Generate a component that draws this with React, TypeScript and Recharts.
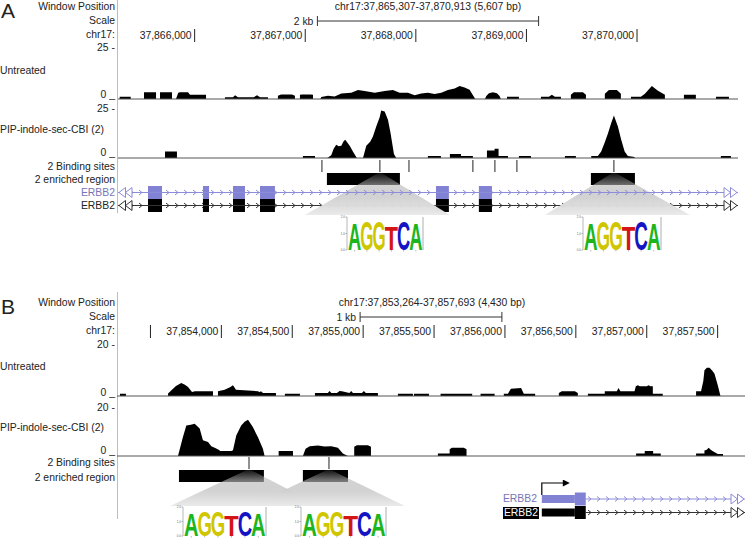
import React from "react";
import {
  AreaChart,
  Area,
  ComposedChart,
  Scatter,
  XAxis,
  YAxis,
  ReferenceLine,
  ReferenceArea,
  ReferenceDot,
} from "recharts";

const FONT = '"Liberation Sans", Arial, Helvetica, sans-serif';
const TXT = "#222";
const BLUE_LINE = "#8c8cd8";
const BLUE_EXON = "#8282d4";
const BLUE_TEXT = "#7676b6";
const FS = 10.4;

// ---- panel A window (chr17) ----
const aStart = 37865307;
const aEnd = 37870913;
const aTicks = [37866000, 37867000, 37868000, 37869000, 37870000];

// signal tracks, [bp from window start, read depth]
const aUntreated: number[][] = [
  [0, 0], [15, 0], [15, 1.1], [115, 1.1], [115, 0],
  [235, 0], [235, 3.2], [344, 3.2], [344, 0],
  [380, 0], [380, 3.2], [488, 3.2], [488, 0],
  [524, 0], [545, 3.0], [560, 3.2], [633, 3.2], [651, 2.0], [796, 2.0], [796, 0],
  [967, 0], [967, 0.9], [1040, 0.9], [1058, 1.8], [1085, 0.9], [1157, 0.9], [1229, 0.9], [1257, 1.8], [1284, 0.9], [1356, 0.9], [1356, 0],
  [1446, 0], [1446, 1.6], [1474, 2.2], [1573, 2.2], [1600, 1.6], [1600, 0],
  [1645, 0], [1645, 2.0], [1665, 2.2], [1743, 2.2], [1763, 2.0], [1763, 0],
  [1830, 0], [1838, 1.0], [1898, 1.6], [1959, 1.2], [2019, 2.7], [2109, 3.0], [2170, 4.3], [2230, 3.9], [2321, 3.0], [2411, 3.8], [2486, 4.3], [2547, 3.0], [2622, 3.0], [2682, 1.8], [2742, 2.6], [2802, 3.0], [2863, 2.4], [2923, 3.0], [2983, 4.3], [3044, 5.0], [3089, 6.2], [3134, 5.5], [3179, 4.5], [3225, 0.5], [3230, 0],
  [3318, 0], [3330, 1.5], [3354, 2.8], [3390, 3.2], [3426, 2.8], [3450, 1.5], [3462, 0],
  [3517, 0], [3517, 1.1], [3625, 1.1], [3625, 0],
  [3824, 0], [3824, 1.1], [3896, 1.1], [3923, 2.1], [3950, 1.1], [4005, 1.1], [4005, 0],
  [4095, 0], [4095, 2.0], [4122, 3.2], [4204, 3.2], [4231, 2.0], [4231, 0],
  [4402, 0], [4402, 2.5], [4439, 4.3], [4511, 4.3], [4547, 2.5], [4547, 0],
  [4638, 0], [4638, 1.1], [4728, 1.1], [4764, 2.5], [4827, 6.2], [4882, 4.0], [4945, 2.0], [4945, 0],
  [5117, 0], [5117, 2.1], [5225, 2.1], [5225, 0],
  [5407, 0], [5407, 1.1], [5524, 1.1], [5524, 0], [5606, 0],
];

const aPip: number[][] = [
  [0, 0], [425, 0], [425, 3.2], [533, 3.2], [533, 0],
  [1672, 0], [1672, 1.0], [1781, 1.0], [1781, 0],
  [1892, 0], [1928, 1.3], [1950, 4.5], [1973, 6.5], [1995, 5.8], [2019, 6.0], [2040, 8.2], [2055, 8.9], [2075, 7.5], [2095, 6.0], [2124, 3.2], [2154, 0.5], [2160, 0],
  [2215, 0], [2225, 2.0], [2245, 6.0], [2280, 8.0], [2305, 10.6], [2335, 15.4], [2366, 20.0], [2380, 23.3], [2411, 22.8], [2441, 18.7], [2465, 12.0], [2495, 2.0], [2516, 0],
  [2802, 0], [2802, 1.0], [2920, 1.0], [2920, 0],
  [3001, 0], [3001, 2.0], [3101, 2.0], [3101, 1.0], [3209, 1.0], [3209, 0],
  [3336, 0], [3336, 3.7], [3405, 3.7], [3405, 4.5], [3441, 4.5], [3441, 1.0], [3526, 1.0], [3526, 0],
  [3625, 0], [3625, 1.0], [3734, 1.0], [3734, 0],
  [4041, 0], [4041, 1.0], [4140, 1.0], [4140, 0],
  [4279, 0], [4279, 1.0], [4339, 1.0], [4369, 3.2], [4400, 7.5], [4430, 12.0], [4459, 17.0], [4484, 20.8], [4520, 15.4], [4550, 9.0], [4581, 3.2], [4610, 1.0], [4671, 0.5], [4671, 0],
  [5451, 0], [5451, 1.0], [5542, 1.0], [5542, 0], [5606, 0],
];

const aExons = [[271, 398], [768, 823], [1040, 1148], [1284, 1419], [2875, 2992], [3263, 3381]];
const aEnriched = [[1889, 2549], [4276, 4674]];
const aSites = [1844, 2368, 2631, 3209, 3408, 3607, 4484];
const aFans = [
  { apex: 2368, left: 1690, right: 3001 },
  { apex: 4484, left: 3860, right: 5171 },
];

// ---- panel B window ----
const bStart = 37853264;
const bEnd = 37857693;
const bTicks = [37853500, 37854000, 37854500, 37855000, 37855500, 37856000, 37856500, 37857000, 37857500];

const bUntreated: number[][] = [
  [0, 0], [21, 0], [21, 0.9], [63, 0.9], [63, 0],
  [360, 0], [360, 1.0], [395, 2.9], [416, 4.0], [453, 5.2], [479, 4.5], [501, 3.6], [529, 1.6], [550, 1.9], [677, 1.9], [677, 0],
  [712, 0], [712, 1.9], [759, 2.5], [797, 3.5], [818, 4.3], [839, 2.5], [994, 1.9], [1008, 1.5], [1015, 2.0], [1022, 1.5], [1031, 1.2], [1121, 1.2], [1121, 0],
  [1184, 0], [1184, 0.9], [1290, 0.9], [1290, 0],
  [1396, 0], [1396, 1.2], [1487, 1.2], [1499, 2.0], [1512, 1.2], [1551, 1.2], [1570, 2.0], [1586, 1.9], [1639, 1.2], [1652, 2.0], [1664, 1.2], [1727, 1.2], [1741, 2.0], [1755, 1.2], [1840, 1.2], [1840, 0],
  [1981, 0], [1981, 0.9], [2087, 0.9], [2087, 0],
  [2094, 0], [2094, 0.9], [2200, 0.9], [2200, 0],
  [2282, 0], [2282, 0.9], [2505, 0.9], [2505, 0],
  [2564, 0], [2564, 0.9], [2663, 0.9], [2663, 0],
  [2728, 0], [2728, 0.9], [2757, 0.9], [2778, 2.9], [2850, 3.2], [2869, 0.9], [2949, 0.9], [2949, 0],
  [3116, 0], [3116, 1.2], [3137, 1.9], [3229, 1.9], [3250, 1.2], [3250, 0],
  [3321, 0], [3321, 0.9], [3440, 0.9], [3440, 1.9], [3525, 1.9], [3537, 3.2], [3550, 1.9], [3650, 1.9], [3659, 3.9], [3673, 4.3], [3687, 3.9], [3737, 3.9], [3749, 4.3], [3761, 3.9], [3779, 3.9], [3779, 0.9], [3849, 0.9], [3849, 0],
  [4084, 0], [4084, 1.9], [4119, 1.9], [4135, 6.0], [4143, 10.3], [4160, 11.3], [4179, 11.3], [4200, 10.0], [4214, 8.9], [4237, 4.3], [4256, 0], [4429, 0],
];

const bPip: number[][] = [
  [0, 0], [430, 0], [465, 7.8], [489, 12.5], [520, 12.8], [548, 13.2], [583, 11.2], [606, 6.4], [642, 5.7], [665, 4.0], [689, 3.4], [724, 2.3], [724, 2.0], [806, 2.0], [818, 2.3], [841, 8.4], [876, 12.5], [900, 14.0], [924, 14.8], [958, 11.8], [994, 7.7], [1029, 3.0], [1041, 0],
  [1140, 0], [1140, 2.0], [1241, 2.0], [1241, 0],
  [1311, 0], [1330, 3.0], [1359, 4.0], [1417, 4.3], [1464, 3.9], [1511, 4.0], [1558, 3.4], [1593, 1.0], [1628, 0],
  [1673, 0], [1673, 3.8], [1692, 4.4], [1770, 4.4], [1791, 3.8], [1791, 0],
  [2263, 0], [2263, 1.0], [2346, 1.0], [2346, 2.8], [2362, 3.4], [2446, 3.4], [2465, 2.8], [2465, 0],
  [3661, 0], [3661, 1.0], [3722, 1.0], [3722, 2.0], [3781, 2.0], [3781, 1.0], [3835, 1.0], [3835, 0],
  [4084, 0], [4084, 1.0], [4143, 1.0], [4143, 2.2], [4159, 2.6], [4173, 3.4], [4187, 2.6], [4200, 2.0], [4237, 0.8], [4274, 0.8], [4274, 0], [4429, 0],
];

const bUtr = [[2996, 3229]];
const bExons = [[3229, 3306]];
const bEnriched = [[437, 1036], [1311, 1629]];
const bSites = [931, 1495];
const bFans = [
  { apex: 931, left: 374, right: 1431 },
  { apex: 1495, left: 938, right: 2030 },
];

// sequence logo
const logoLetters = ["A", "G", "G", "T", "C", "A"];
const logoBits = [1.6, 1.75, 1.75, 1.45, 1.75, 1.6];
const letterColor: Record<string, string> = { A: "#1cb51c", G: "#cfc600", T: "#d41515", C: "#1414c4" };
// bold glyph advance widths (em) used to stretch each letter into its slot
const letterAdvance: Record<string, number> = { A: 0.722, G: 0.778, T: 0.611, C: 0.722 };

const M0 = { top: 0, right: 0, bottom: 0, left: 0 };

function Lbl({ x, y, children, align = "right", color = TXT, size = FS, bg }: any) {
  const style: React.CSSProperties = {
    position: "absolute",
    top: y,
    whiteSpace: "nowrap",
    fontSize: size,
    lineHeight: size > 12 ? 1.2 : "12px",
    color,
    transform: "translateY(-50%)",
  };
  if (align === "right") style.right = 746 - x;
  else if (align === "center") {
    style.left = x;
    style.transform = "translate(-50%,-50%)";
  } else style.left = x;
  if (bg) {
    style.background = bg;
    style.padding = "0 1px";
  }
  return <div style={style}>{children}</div>;
}

function Signal({ pts, span, width, height, max, left, top }: any) {
  const rows = pts.map(([pos, v]: number[]) => ({ pos, v }));
  return (
    <div style={{ position: "absolute", left, top }}>
      <AreaChart width={width} height={height + 1} data={rows} margin={{ top: 0, right: 0, bottom: 1, left: 0 }}>
        <XAxis type="number" dataKey="pos" domain={[0, span]} hide allowDataOverflow />
        <YAxis type="number" domain={[0, max]} hide allowDataOverflow />
        <Area type="linear" dataKey="v" stroke="none" fill="#000" fillOpacity={1} dot={false} activeDot={false} isAnimationActive={false} />
        <ReferenceLine y={0} stroke="#555" strokeWidth={1} />
      </AreaChart>
    </div>
  );
}

function TickMark(p: any) {
  const { cx, cy, payload } = p;
  return (
    <g>
      <line x1={cx} x2={cx} y1={cy - 6} y2={cy + 7} stroke="#222" strokeWidth={1} />
      {cx > 60 && (
        <text x={cx - 3} y={cy} dy="0.36em" textAnchor="end" fontSize={FS} fontFamily={FONT} fill={TXT}>
          {payload.label}
        </text>
      )}
    </g>
  );
}

function Ruler({ start, end, width, ticks, scaleBp, scaleLabel, left, top }: any) {
  const span = end - start;
  const mid = span / 2;
  const rows = ticks.map((t: number) => ({ pos: t - start, y: 21, label: t.toLocaleString("en-US") }));
  const a = mid - scaleBp / 2;
  const b = mid + scaleBp / 2;
  return (
    <div style={{ position: "absolute", left, top }}>
      <ComposedChart width={width} height={30} margin={M0}>
        <XAxis type="number" dataKey="pos" domain={[0, span]} hide allowDataOverflow />
        <YAxis type="number" dataKey="y" domain={[0, 30]} reversed hide />
        <Scatter data={rows} dataKey="y" shape={TickMark} isAnimationActive={false} />
        <ReferenceLine segment={[{ x: a, y: 7 }, { x: b, y: 7 }]} stroke="#333" />
        <ReferenceLine segment={[{ x: a, y: 2 }, { x: a, y: 12 }]} stroke="#333" />
        <ReferenceLine segment={[{ x: b, y: 2 }, { x: b, y: 12 }]} stroke="#333" />
        <ReferenceDot
          x={a}
          y={7}
          shape={(q: any) => (
            <text x={q.cx - 4} y={q.cy} dy="0.36em" textAnchor="end" fontSize={FS} fontFamily={FONT} fill={TXT}>
              {scaleLabel}
            </text>
          )}
        />
      </ComposedChart>
    </div>
  );
}

function SiteTick(p: any) {
  return <line x1={p.cx} x2={p.cx} y1={p.cy - 6} y2={p.cy + 6} stroke="#222" strokeWidth={1} />;
}

function Annot({ span, width, left, top, sites, regions }: any) {
  return (
    <div style={{ position: "absolute", left, top }}>
      <ComposedChart width={width} height={30} margin={M0}>
        <XAxis type="number" dataKey="pos" domain={[0, span]} hide allowDataOverflow />
        <YAxis type="number" dataKey="y" domain={[0, 30]} reversed hide />
        {regions.map(([s, e]: number[], i: number) => (
          <ReferenceArea key={i} x1={s} x2={e} y1={15} y2={27} fill="#000" fillOpacity={1} stroke="none" />
        ))}
        <Scatter data={sites.map((s: number) => ({ pos: s, y: 8 }))} dataKey="y" shape={SiteTick} isAnimationActive={false} />
      </ComposedChart>
    </div>
  );
}

function GeneRow({ id, span, width, left, top, height, rowY, color, exonColor, lineFrom, exons, utr = [], leftEnd, tss }: any) {
  const ends = [{ pos: span, y: rowY, dir: 1 }];
  if (leftEnd) ends.push({ pos: 0, y: rowY, dir: -1 });
  const endShape = (p: any) => {
    const { cx, cy, payload } = p;
    const d = payload.dir;
    const tri = (tip: number) =>
      `${tip},${cy} ${tip - d * 6.5},${cy - 5} ${tip - d * 6.5},${cy + 5}`;
    const t1 = cx - d * 1;
    const t2 = cx - d * 7.5;
    return (
      <g fill="#fff" stroke={color} strokeWidth={1}>
        <polygon points={tri(t2)} />
        <polygon points={tri(t1)} />
      </g>
    );
  };
  return (
    <div style={{ position: "absolute", left, top }}>
      <ComposedChart width={width} height={height} margin={M0}>
        <defs>
          <pattern id={id} patternUnits="userSpaceOnUse" width={9} height={height}>
            <path d={`M3,${rowY - 2.5} L6,${rowY} L3,${rowY + 2.5}`} stroke={color} fill="none" strokeWidth={1} />
          </pattern>
        </defs>
        <XAxis type="number" dataKey="pos" domain={[0, span]} hide allowDataOverflow />
        <YAxis type="number" dataKey="y" domain={[0, height]} reversed hide />
        <ReferenceArea x1={lineFrom} x2={span} y1={rowY - 3} y2={rowY + 3} fill={`url(#${id})`} fillOpacity={1} stroke="none" />
        <ReferenceLine segment={[{ x: lineFrom, y: rowY }, { x: span, y: rowY }]} stroke={color} strokeWidth={1} />
        {utr.map(([s, e]: number[], i: number) => (
          <ReferenceArea key={"u" + i} x1={s} x2={e} y1={rowY - 4} y2={rowY + 4} fill={exonColor} fillOpacity={1} stroke="none" />
        ))}
        {exons.map(([s, e]: number[], i: number) => (
          <ReferenceArea key={"e" + i} x1={s} x2={e} y1={rowY - 6.5} y2={rowY + 6.5} fill={exonColor} fillOpacity={1} stroke="none" />
        ))}
        {tss !== undefined && (
          <ReferenceDot
            x={tss}
            y={rowY}
            shape={(q: any) => (
              <g>
                <path d={`M${q.cx},${q.cy - 4} V${q.cy - 16} H${q.cx + 22}`} stroke="#000" strokeWidth={1.2} fill="none" />
                <polygon points={`${q.cx + 21},${q.cy - 19.5} ${q.cx + 28},${q.cy - 16} ${q.cx + 21},${q.cy - 12.5}`} fill="#000" />
              </g>
            )}
          />
        )}
        <Scatter data={ends} dataKey="y" shape={endShape} isAnimationActive={false} />
      </ComposedChart>
    </div>
  );
}

function Fans({ id, fans, span, width, left, top, height }: any) {
  return (
    <div style={{ position: "absolute", left, top }}>
      <ComposedChart width={width} height={height} margin={M0}>
        <defs>
          <linearGradient id={id} x1="0" y1="0" x2="0" y2="1">
            <stop offset="0" stopColor="#b0b0b0" stopOpacity={0.05} />
            <stop offset="0.3" stopColor="#b8b8b8" stopOpacity={0.6} />
            <stop offset="0.62" stopColor="#d2d2d2" stopOpacity={0.96} />
            <stop offset="1" stopColor="#eaeaea" stopOpacity={1} />
          </linearGradient>
        </defs>
        <XAxis type="number" dataKey="pos" domain={[0, span]} hide allowDataOverflow />
        <YAxis type="number" dataKey="y" domain={[0, height]} reversed hide />
        {fans.map((f: any, i: number) => (
          <ReferenceArea
            key={i}
            x1={f.left}
            x2={f.right}
            y1={0}
            y2={height}
            shape={(p: any) => {
              const ax = p.x + (p.width * (f.apex - f.left)) / (f.right - f.left);
              return (
                <polygon
                  points={`${ax},${p.y} ${p.x},${p.y + p.height} ${p.x + p.width},${p.y + p.height}`}
                  fill={`url(#${id})`}
                />
              );
            }}
          />
        ))}
        <Scatter data={fans.map((f: any) => ({ pos: f.apex, y: 0 }))} dataKey="y" shape={() => <g />} isAnimationActive={false} />
      </ComposedChart>
    </div>
  );
}

function Logo({ left, top, width, height }: any) {
  // pad the svg so the stretched glyph boxes are not clipped
  const pad = 8;
  const axisX = 7;
  const base = pad + height - 3;
  const unit = (height - 5) / 2;
  const x0 = axisX + 1.5;
  const x1 = width - 2;
  const lw = (x1 - x0) / logoLetters.length;
  return (
    <svg style={{ position: "absolute", left, top: top - pad, overflow: "visible" }} width={width} height={height + 2 * pad}>
      <line x1={axisX} x2={axisX} y1={base - 2 * unit} y2={base} stroke="#888" strokeWidth={0.6} />
      {[0, 1, 2].map((k) => (
        <g key={k}>
          <line x1={axisX - 1.5} x2={axisX} y1={base - k * unit} y2={base - k * unit} stroke="#888" strokeWidth={0.6} />
          <text x={axisX - 2} y={base - k * unit + 1} fontSize={3} textAnchor="end" fill="#666" fontFamily={FONT}>
            {k}.0
          </text>
        </g>
      ))}
      <line x1={width - 1} x2={width - 1} y1={base - 2 * unit} y2={base} stroke="#999" strokeWidth={0.8} />
      {logoLetters.map((ch, i) => {
        const h = logoBits[i] * unit;
        const sx = (lw * 1.08) / (letterAdvance[ch] * 10);
        const sy = h / 7.2;
        const lx = x0 + i * lw - lw * 0.04;
        return (
          <g key={i}>
            <text
              transform={`translate(${lx},${base}) scale(${sx},${sy})`}
              x={0}
              y={0}
              fontSize={10}
              fontWeight="bold"
              fontFamily={FONT}
              fill={letterColor[ch]}
            >
              {ch}
            </text>
            <line x1={x0 + (i + 0.5) * lw} x2={x0 + (i + 0.5) * lw} y1={base} y2={base + 1.5} stroke="#888" strokeWidth={0.6} />
          </g>
        );
      })}
    </svg>
  );
}

function RedLine({ top, height }: any) {
  return <div style={{ position: "absolute", left: 117, top, width: 1, height, background: "#f2a6a6" }} />;
}

export default function App() {
  const aSpan = aEnd - aStart;
  const bSpan = bEnd - bStart;
  return (
    <div
      style={{
        position: "absolute",
        left: 0,
        top: 0,
        width: 746,
        height: 547,
        background: "#fff",
        overflow: "hidden",
        fontFamily: FONT,
        color: TXT,
      }}
    >
      {/* ---------------- panel A ---------------- */}
      <RedLine top={0} height={213} />
      <Lbl x={1} y={11} align="left" size={21}>A</Lbl>
      <Lbl x={115} y={7}>Window Position</Lbl>
      <Lbl x={115} y={21}>Scale</Lbl>
      <Lbl x={115} y={35}>chr17:</Lbl>
      <Lbl x={115} y={48}>25 -</Lbl>
      <Lbl x={0} y={71} align="left">Untreated</Lbl>
      <Lbl x={115} y={95}>0 _</Lbl>
      <Lbl x={115} y={108.5}>25 -</Lbl>
      <Lbl x={0} y={130} align="left">PIP-indole-sec-CBI (2)</Lbl>
      <Lbl x={115} y={153}>0 _</Lbl>
      <Lbl x={115} y={166.5}>2 Binding sites</Lbl>
      <Lbl x={115} y={180}>2 enriched region</Lbl>
      <Lbl x={115} y={192.5} color={BLUE_TEXT}>ERBB2</Lbl>
      <Lbl x={115} y={205.5}>ERBB2</Lbl>
      <Lbl x={428} y={7} align="center">
        {`chr17:${aStart.toLocaleString("en-US")}-${aEnd.toLocaleString("en-US")} (${(aSpan + 1).toLocaleString("en-US")} bp)`}
      </Lbl>

      <Ruler start={aStart} end={aEnd} width={620} ticks={aTicks} scaleBp={2000} scaleLabel="2 kb" left={118} top={14} />
      <Signal pts={aUntreated} span={aSpan} width={620} height={52} max={25} left={118} top={47} />
      <Signal pts={aPip} span={aSpan} width={620} height={51} max={25} left={118} top={107} />
      <Annot span={aSpan} width={620} left={118} top={158} sites={aSites} regions={aEnriched} />
      <GeneRow id="chevAk" span={aSpan} width={620} left={118} top={199} height={14} rowY={6.5} color="#333" exonColor="#000" lineFrom={0} exons={aExons} leftEnd />
      <Fans id="fanA" fans={aFans} span={aSpan} width={620} left={118} top={172} height={43} />
      <GeneRow id="chevAb" span={aSpan} width={620} left={118} top={186} height={14} rowY={6.5} color={BLUE_LINE} exonColor={BLUE_EXON} lineFrom={0} exons={aExons} leftEnd />
      <Logo left={340} top={215} width={84} height={38} />
      <Logo left={576} top={215} width={86} height={38} />

      {/* ---------------- panel B ---------------- */}
      <RedLine top={292} height={227} />
      <Lbl x={1} y={307} align="left" size={21}>B</Lbl>
      <Lbl x={115} y={303}>Window Position</Lbl>
      <Lbl x={115} y={317}>Scale</Lbl>
      <Lbl x={115} y={331}>chr17:</Lbl>
      <Lbl x={115} y={345}>20 -</Lbl>
      <Lbl x={0} y={367} align="left">Untreated</Lbl>
      <Lbl x={115} y={392.5}>0 _</Lbl>
      <Lbl x={115} y={408}>20 -</Lbl>
      <Lbl x={0} y={428} align="left">PIP-indole-sec-CBI (2)</Lbl>
      <Lbl x={115} y={451}>0 _</Lbl>
      <Lbl x={115} y={463}>2 Binding sites</Lbl>
      <Lbl x={115} y={477.5}>2 enriched region</Lbl>
      <Lbl x={432} y={303} align="center">
        {`chr17:${bStart.toLocaleString("en-US")}-${bEnd.toLocaleString("en-US")} (${(bSpan + 1).toLocaleString("en-US")} bp)`}
      </Lbl>

      <Ruler start={bStart} end={bEnd} width={628} ticks={bTicks} scaleBp={1000} scaleLabel="1 kb" left={117} top={310} />
      <Signal pts={bUntreated} span={bSpan} width={628} height={50} max={20} left={117} top={346} />
      <Signal pts={bPip} span={bSpan} width={628} height={49} max={20} left={117} top={407} />
      <Annot span={bSpan} width={628} left={117} top={455} sites={bSites} regions={bEnriched} />
      <Fans id="fanB" fans={bFans} span={bSpan} width={628} left={117} top={469} height={37} />
      <GeneRow id="chevBb" span={bSpan} width={628} left={117} top={480} height={26} rowY={19} color={BLUE_LINE} exonColor={BLUE_EXON} lineFrom={3306} exons={bExons} utr={bUtr} tss={2996} />
      <GeneRow id="chevBk" span={bSpan} width={628} left={117} top={506} height={14} rowY={6.5} color="#333" exonColor="#000" lineFrom={3306} exons={bExons} utr={bUtr} />
      <Lbl x={537} y={499} color={BLUE_TEXT}>ERBB2</Lbl>
      <Lbl x={539} y={513} color="#fff" bg="#000">ERBB2</Lbl>
      <Logo left={176} top={505} width={91} height={34} />
      <Logo left={294} top={505} width={93} height={34} />
    </div>
  );
}
